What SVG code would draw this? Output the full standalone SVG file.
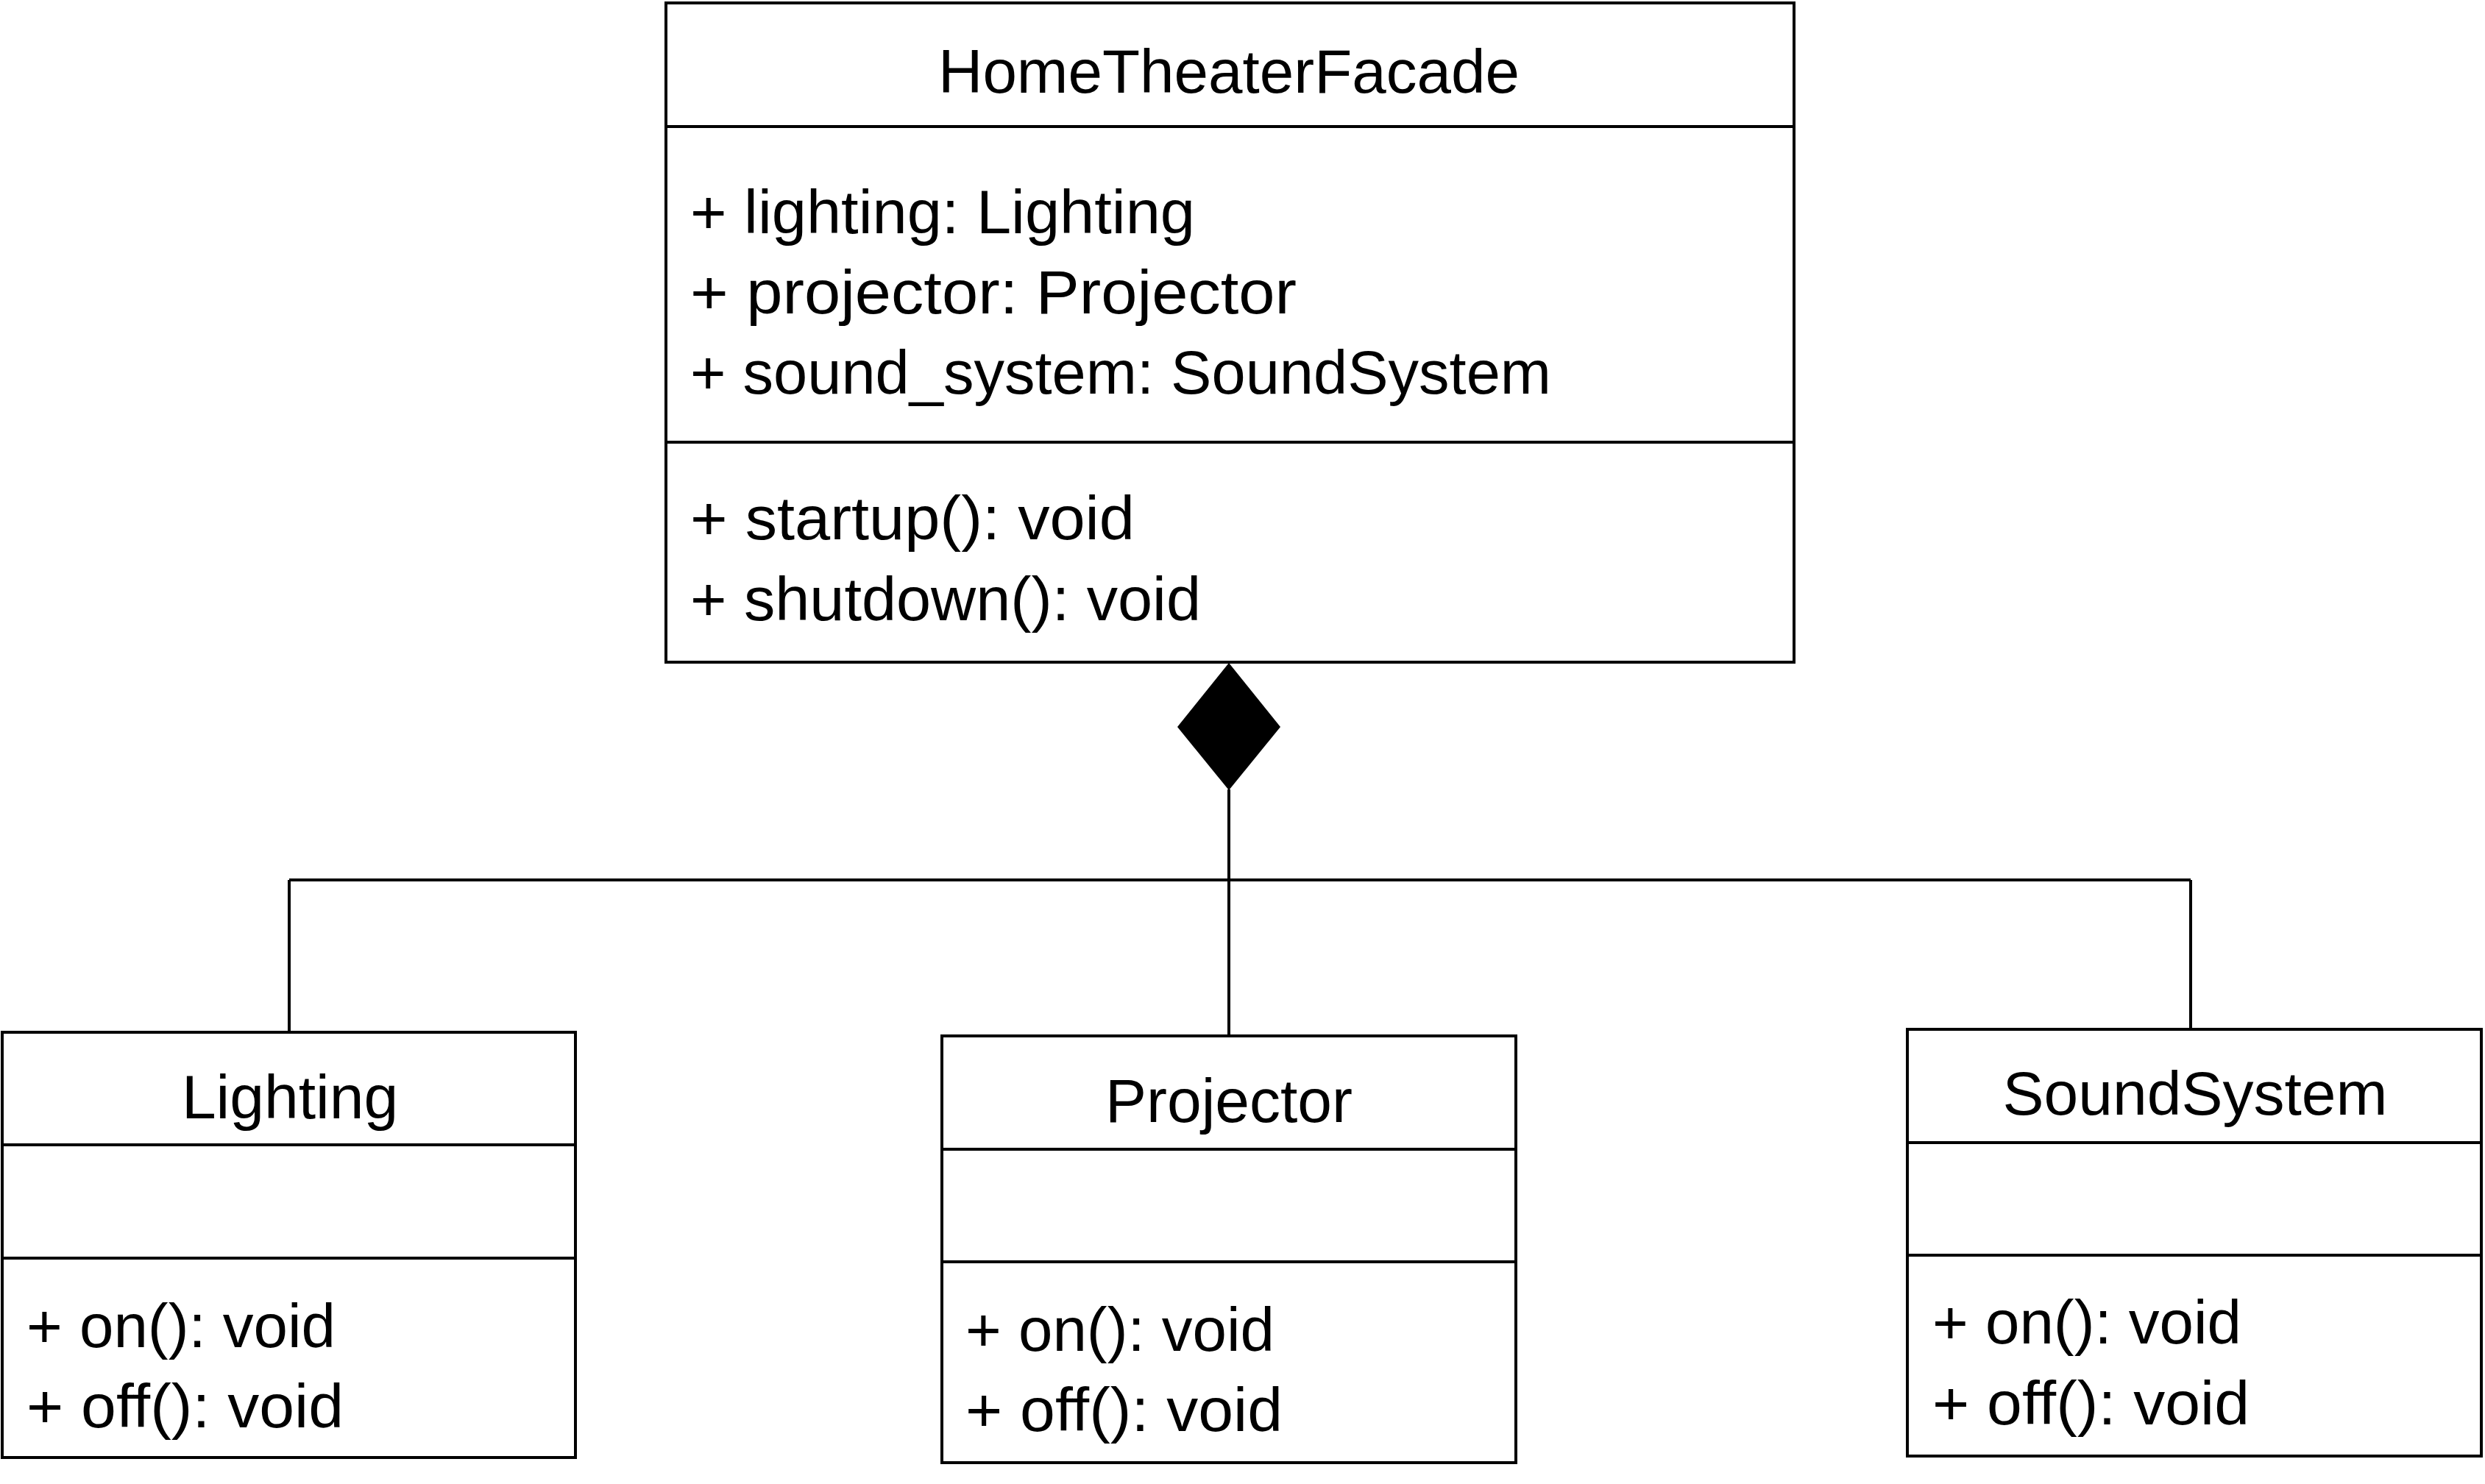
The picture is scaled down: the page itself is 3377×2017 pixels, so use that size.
<svg xmlns="http://www.w3.org/2000/svg" width="3377" height="2017" viewBox="0 0 3377 2017">
<style>
.box{fill:#fff;stroke:#000;stroke-width:4}
.div{stroke:#000;stroke-width:4;fill:none}
.conn{stroke:#000;stroke-width:4;fill:none}
.t{font-family:"Liberation Sans",Arial,sans-serif;font-size:84px;fill:#000}
.c{text-anchor:middle}
</style>
<rect width="3377" height="2017" fill="#fff"/>
<g id="connectors">
<path class="conn" d="M393,1196 H2977 M393,1196 V1402 M2977,1196 V1400 M1670,1073 V1406"/>
<polygon points="1670,901 1740,988 1670,1074 1600,988" fill="#000"/>
</g>
<g id="HomeTheaterFacade">
<rect class="box" x="905" y="4" width="1533" height="896"/>
<path class="div" d="M905,172 H2438 M905,601 H2438"/>
<text class="t c" x="1670" y="126" textLength="790" lengthAdjust="spacingAndGlyphs">HomeTheaterFacade</text>
<text class="t" x="938" y="317" textLength="686" lengthAdjust="spacingAndGlyphs">+ lighting: Lighting</text>
<text class="t" x="938" y="426" textLength="824" lengthAdjust="spacingAndGlyphs">+ projector: Projector</text>
<text class="t" x="938" y="535" textLength="1170" lengthAdjust="spacingAndGlyphs">+ sound_system: SoundSystem</text>
<text class="t" x="938" y="733" textLength="604" lengthAdjust="spacingAndGlyphs">+ startup(): void</text>
<text class="t" x="938" y="843" textLength="694" lengthAdjust="spacingAndGlyphs">+ shutdown(): void</text>
</g>
<g id="Lighting">
<rect class="box" x="3" y="1403" width="779" height="578"/>
<path class="div" d="M3,1556 H782 M3,1710 H782"/>
<text class="t c" x="394" y="1520">Lighting</text>
<text class="t" x="36" y="1831" textLength="420" lengthAdjust="spacingAndGlyphs">+ on(): void</text>
<text class="t" x="36" y="1940" textLength="431" lengthAdjust="spacingAndGlyphs">+ off(): void</text>
</g>
<g id="Projector">
<rect class="box" x="1280" y="1408" width="780" height="580"/>
<path class="div" d="M1280,1562 H2060 M1280,1715 H2060"/>
<text class="t c" x="1670" y="1525">Projector</text>
<text class="t" x="1312" y="1836" textLength="420" lengthAdjust="spacingAndGlyphs">+ on(): void</text>
<text class="t" x="1312" y="1945" textLength="431" lengthAdjust="spacingAndGlyphs">+ off(): void</text>
</g>
<g id="SoundSystem">
<rect class="box" x="2592" y="1399" width="780" height="580"/>
<path class="div" d="M2592,1553 H3372 M2592,1706 H3372"/>
<text class="t c" x="2983" y="1515">SoundSystem</text>
<text class="t" x="2626" y="1826" textLength="420" lengthAdjust="spacingAndGlyphs">+ on(): void</text>
<text class="t" x="2626" y="1936" textLength="431" lengthAdjust="spacingAndGlyphs">+ off(): void</text>
</g>
</svg>
